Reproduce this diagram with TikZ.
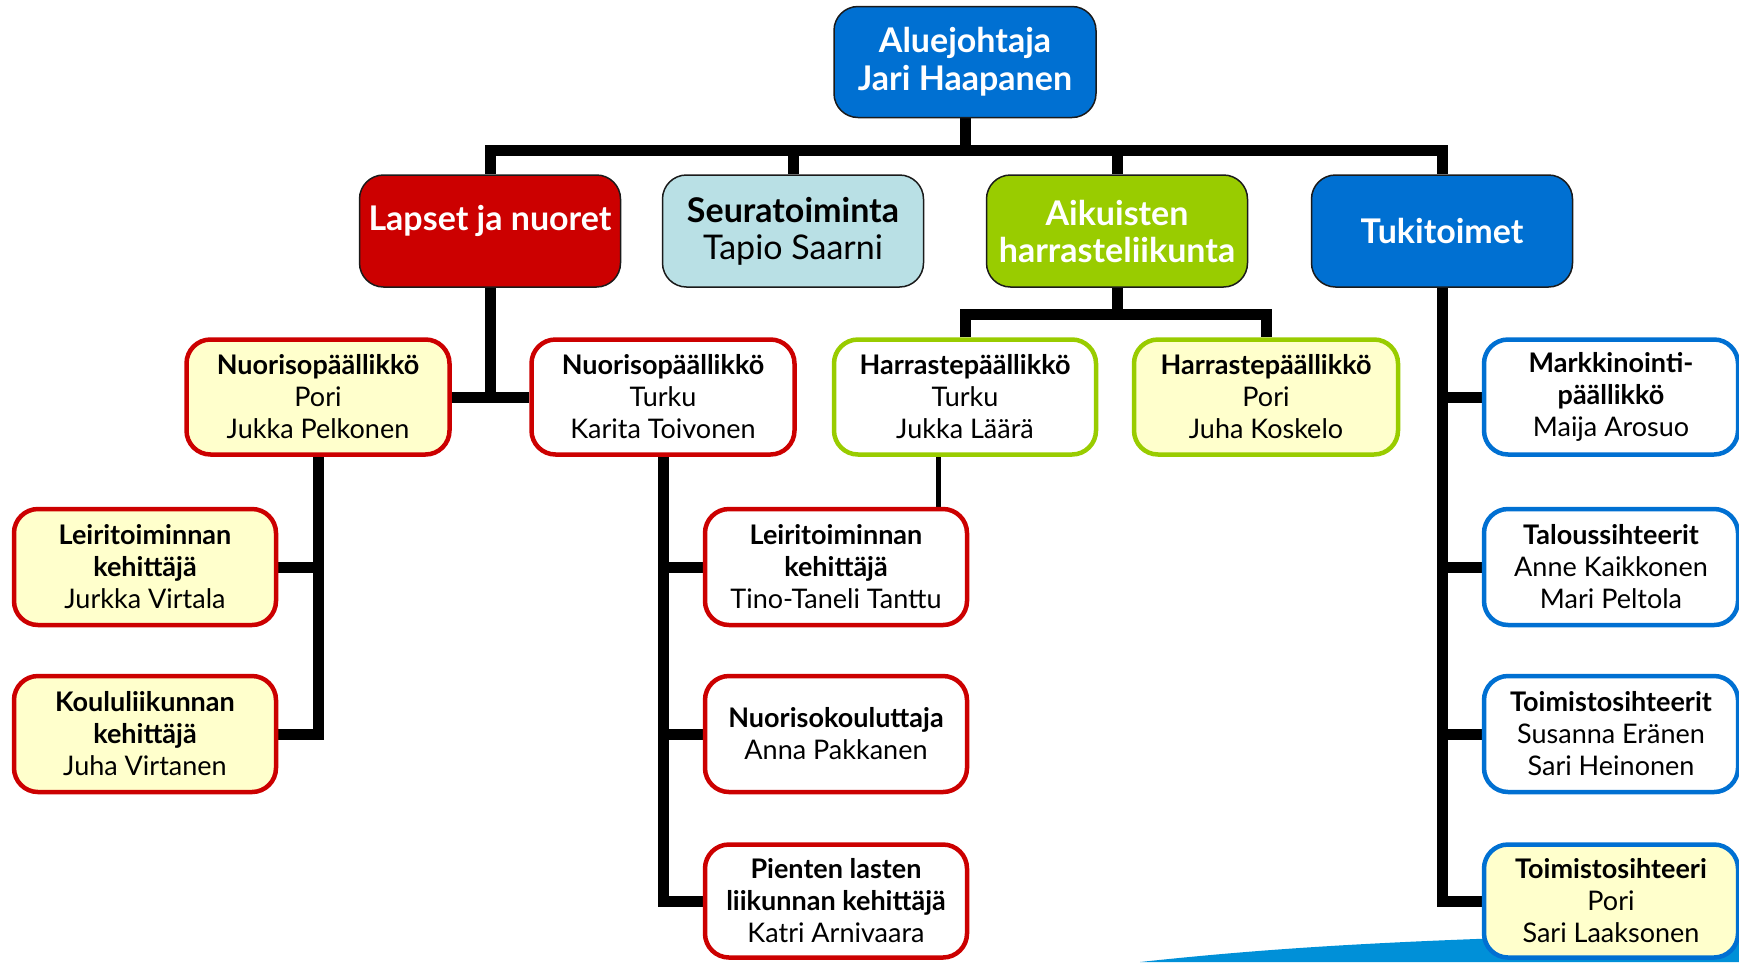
\documentclass[tikz,border=0pt]{standalone}
\usepackage{fontspec}
\setmainfont{Lato}
\usetikzlibrary{backgrounds}
\definecolor{deepblue}{HTML}{0070D2}
\definecolor{deepred}{HTML}{CC0000}
\definecolor{paleblue}{HTML}{B9E0E5}
\definecolor{limegreen}{HTML}{99CC00}
\definecolor{paleyellow}{HTML}{FFFFCC}
\definecolor{edgedark}{HTML}{1A1A1A}
\definecolor{swooshblue}{HTML}{0090D8}
\begin{document}
\begin{tikzpicture}[x=1pt,y=-1pt,
  sz/.style 2 args={minimum width=#1pt, minimum height=#2pt},
  headbox/.style={draw=edgedark, line width=1.5pt, rounded corners=24pt, align=center, inner sep=0pt},
  subbox/.style={line width=4.5pt, rounded corners=24pt, align=center, inner sep=0pt,
    font=\fontsize{27}{32}\selectfont, text=black},
  redbox/.style={subbox, draw=deepred},
  greenbox/.style={subbox, draw=limegreen},
  bluebox/.style={subbox, draw=deepblue},
  conn/.style={line width=11pt, draw=black, line join=miter},
  thinconn/.style={line width=5pt, draw=black},
]
\useasboundingbox (0,0) rectangle (1739,962);
\clip (0,0) rectangle (1739,962);

% level 1
\node[headbox, fill=deepblue, text=white, sz={262}{111},
  font=\bfseries\fontsize{34}{38}\selectfont] (top) at (965,62) {Aluejohtaja\\Jari Haapanen};

% level 2
\node[headbox, fill=deepred, text=white, sz={261}{112},
  font=\bfseries\fontsize{34}{38}\selectfont] (lapset) at (490,231) {Lapset ja nuoret\\[-12pt]\mbox{}};
\node[headbox, fill=paleblue, text=black, sz={261}{112},
  font=\fontsize{34}{37}\selectfont] (seura) at (793,231) {\textbf{Seuratoiminta}\\Tapio Saarni};
\node[headbox, fill=limegreen, text=white, sz={261}{112},
  font=\bfseries\fontsize{34}{37}\selectfont] (aik) at (1117,231) {Aikuisten\\harrasteliikunta};
\node[headbox, fill=deepblue, text=white, sz={261}{112},
  font=\bfseries\fontsize{34}{38}\selectfont] (tuki) at (1442,231) {Tukitoimet};

% level 3
\node[redbox, fill=paleyellow, sz={263}{115}] (npori) at (318,397) {\textbf{Nuorisopäällikkö}\\Pori\\Jukka Pelkonen};
\node[redbox, fill=white, sz={263}{115}] (nturku) at (663,397) {\textbf{Nuorisopäällikkö}\\Turku\\Karita Toivonen};
\node[greenbox, fill=white, sz={262}{115}] (hturku) at (965,397) {\textbf{Harrastepäällikkö}\\Turku\\Jukka Läärä};
\node[greenbox, fill=paleyellow, sz={264}{115}] (hpori) at (1266,397) {\textbf{Harrastepäällikkö}\\Pori\\Juha Koskelo};
\node[bluebox, fill=white, sz={254}{115}] (mark) at (1611,397) {\textbf{Markkinointi-}\\\textbf{päällikkö}\\Maija Arosuo};

% left column
\node[redbox, fill=paleyellow, sz={262}{116}] (leia) at (145,567) {\textbf{Leiritoiminnan}\\\textbf{kehittäjä}\\Jurkka Virtala};
\node[redbox, fill=paleyellow, sz={262}{116}] (koulu) at (145,734) {\textbf{Koululiikunnan}\\\textbf{kehittäjä}\\Juha Virtanen};

% middle column
\node[redbox, fill=white, sz={262}{116}] (leib) at (836,567) {\textbf{Leiritoiminnan}\\\textbf{kehittäjä}\\Tino-Taneli Tanttu};
\node[redbox, fill=white, sz={262}{116}] (nkoul) at (836,734) {\textbf{Nuorisokouluttaja}\\Anna Pakkanen};
\node[redbox, fill=white, sz={262}{113}] (pien) at (836,901) {\textbf{Pienten lasten}\\\textbf{liikunnan kehittäjä}\\Katri Arnivaara};

% right column
\node[bluebox, fill=white, sz={254}{116}] (talous) at (1611,567) {\textbf{Taloussihteerit}\\Anne Kaikkonen\\Mari Peltola};
\node[bluebox, fill=white, sz={254}{116}] (toimi) at (1611,734) {\textbf{Toimistosihteerit}\\Susanna Eränen\\Sari Heinonen};
\node[bluebox, fill=paleyellow, sz={254}{113}] (toimpori) at (1611,901) {\textbf{Toimistosihteeri}\\Pori\\Sari Laaksonen};

\coordinate (bar) at (965,150);
\coordinate (abar) at (1117,314);
\coordinate (thin) at (938,0);

\begin{pgfonlayer}{background}
  % swoosh
  \fill[swooshblue] (1140,962) .. controls (1280,947) and (1420,938) .. (1739,932) -- (1739,962) -- cycle;
  % top bar
  \draw[conn] (top.south) -- (bar);
  \draw[conn] (lapset.north) -- (lapset.north |- bar) -- (tuki.north |- bar) -- (tuki.north);
  \draw[conn] (seura.north |- bar) -- (seura.north);
  \draw[conn] (aik.north |- bar) -- (aik.north);
  % lapset ja nuoret
  \draw[conn] (lapset.south) -- (lapset.south |- npori.east);
  \draw[conn] (npori.east) -- (nturku.west);
  \draw[conn] (npori.south) -- (npori.south |- koulu.east) -- (koulu.east);
  \draw[conn] (leia.east) -- (leia.east -| npori.south);
  \draw[conn] (nturku.south) -- (nturku.south |- pien.west) -- (pien.west);
  \draw[conn] (leib.west -| nturku.south) -- (leib.west);
  \draw[conn] (nkoul.west -| nturku.south) -- (nkoul.west);
  % aikuisten
  \draw[conn] (aik.south) -- (abar);
  \draw[conn] (hturku.north) -- (hturku.north |- abar) -- (hpori.north |- abar) -- (hpori.north);
  \draw[thinconn] (hturku.south -| thin) -- (leib.north -| thin);
  % tukitoimet
  \draw[conn] (tuki.south) -- (tuki.south |- toimpori.west) -- (toimpori.west);
  \draw[conn] (mark.west -| tuki.south) -- (mark.west);
  \draw[conn] (talous.west -| tuki.south) -- (talous.west);
  \draw[conn] (toimi.west -| tuki.south) -- (toimi.west);
\end{pgfonlayer}
\end{tikzpicture}
\end{document}
